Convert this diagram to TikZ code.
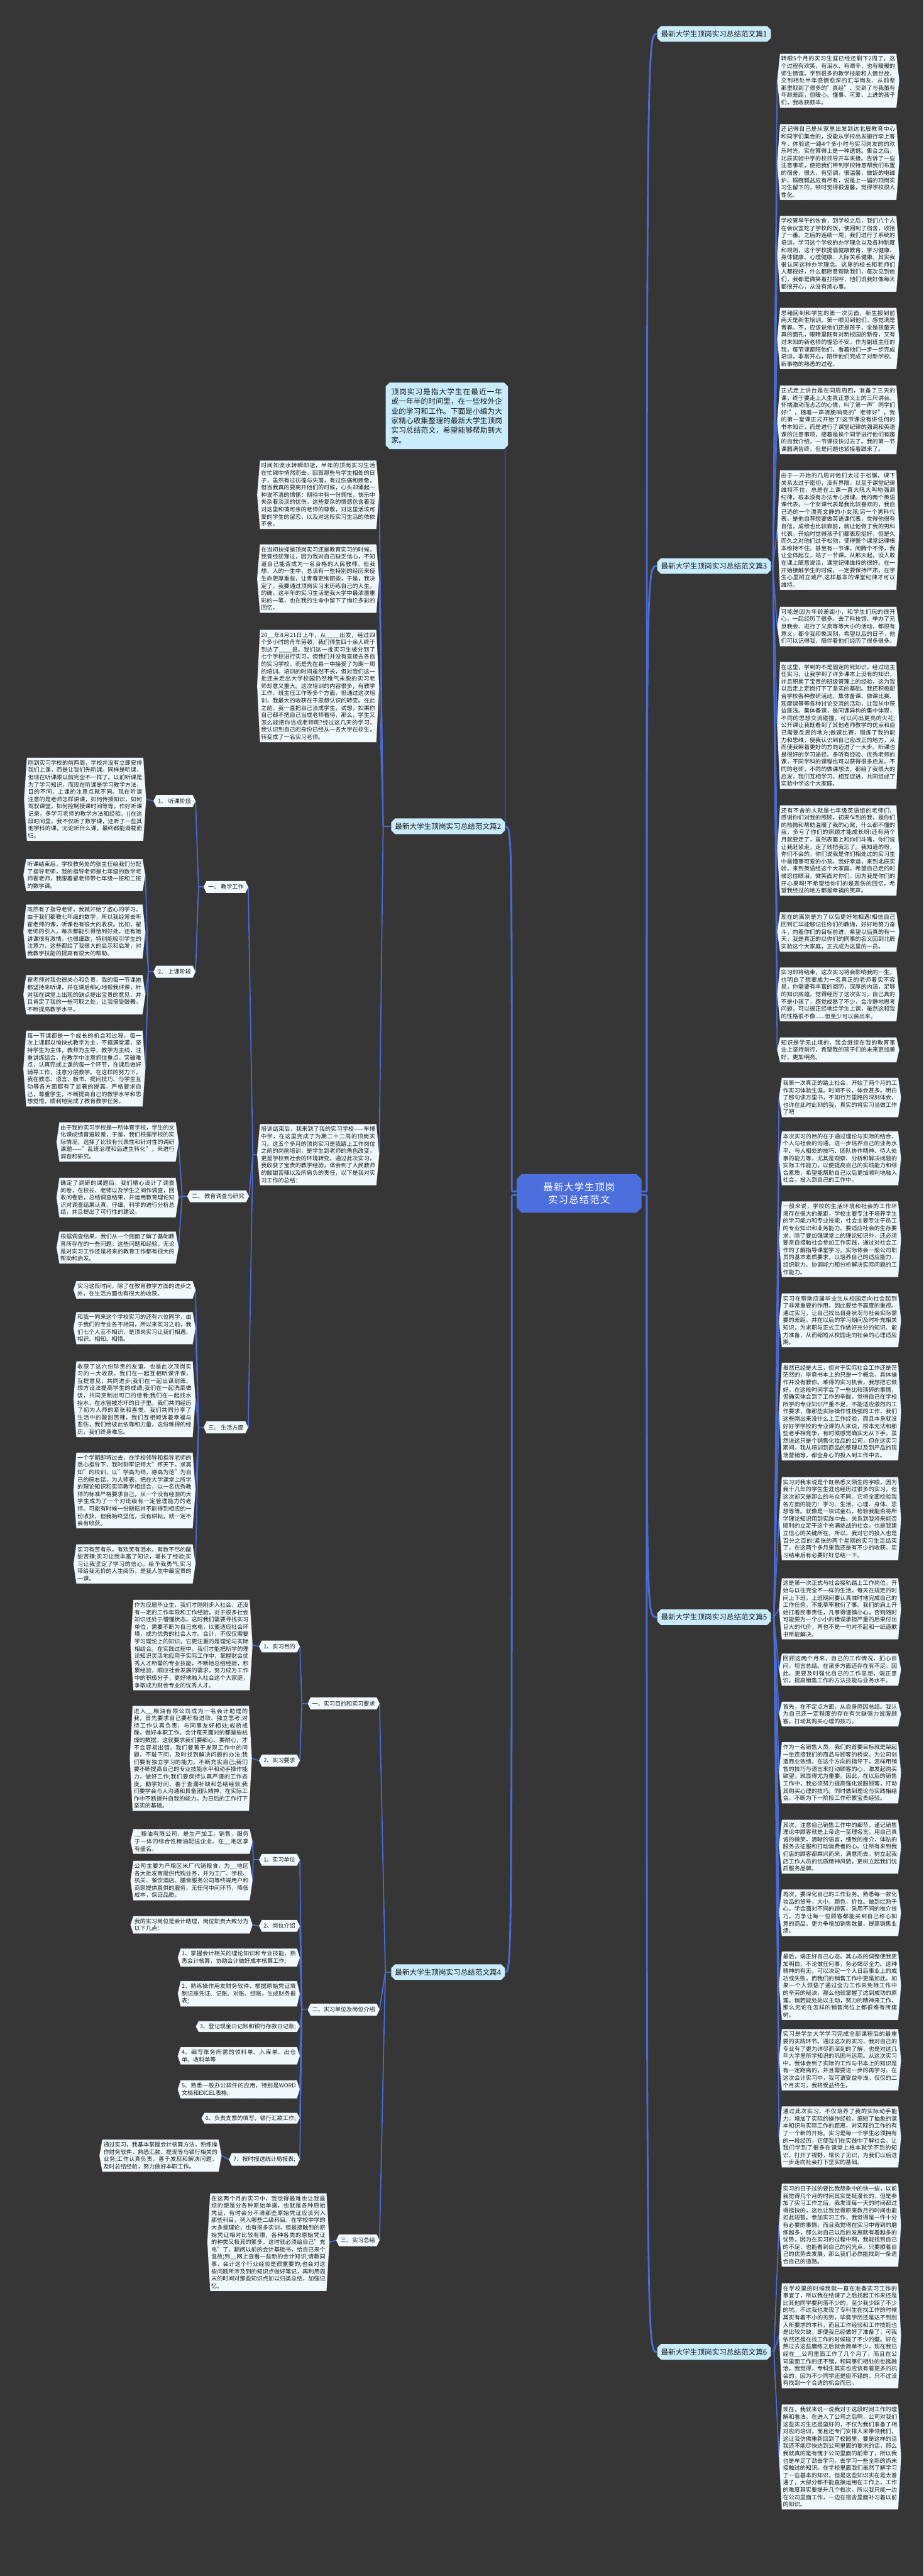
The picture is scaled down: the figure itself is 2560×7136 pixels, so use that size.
\documentclass[tikz,border=0pt]{standalone}
\usepackage{fontspec}
\setmainfont{Noto Sans CJK SC}
\XeTeXlinebreaklocale "zh"
\XeTeXlinebreakskip=0pt plus 1pt
\usepackage{xcolor}
\usepackage{tikz}
\usetikzlibrary{shapes.misc}
\definecolor{bgdark}{RGB}{54,54,54}
\definecolor{linkblue}{RGB}{74,108,214}
\definecolor{leaffill}{RGB}{241,249,253}
\definecolor{pianfill}{RGB}{200,236,252}
\definecolor{rootblue}{RGB}{77,111,221}
\definecolor{inkdark}{RGB}{25,25,25}

% box with a short point on the left and on the right
\makeatletter
\newdimen\hextip
\hextip=4.5pt
\pgfdeclareshape{tipbox}{
  \inheritsavedanchors[from=rectangle]
  \inheritanchorborder[from=rectangle]
  \inheritanchor[from=rectangle]{center}
  \inheritanchor[from=rectangle]{north}
  \inheritanchor[from=rectangle]{south}
  \inheritanchor[from=rectangle]{north west}
  \inheritanchor[from=rectangle]{north east}
  \inheritanchor[from=rectangle]{south west}
  \inheritanchor[from=rectangle]{south east}
  \inheritanchor[from=rectangle]{base}
  \inheritanchor[from=rectangle]{mid}
  \anchor{east}{%
    \southwest \pgf@yc=\pgf@y
    \northeast \advance\pgf@y by \pgf@yc \pgf@y=.5\pgf@y
    \advance\pgf@x by \hextip}
  \anchor{west}{%
    \northeast \pgf@yc=\pgf@y
    \southwest \advance\pgf@y by \pgf@yc \pgf@y=.5\pgf@y
    \advance\pgf@x by -\hextip}
  \backgroundpath{%
    \southwest \edef\tb@l{\the\pgf@x}\edef\tb@b{\the\pgf@y}%
    \northeast \edef\tb@r{\the\pgf@x}\edef\tb@t{\the\pgf@y}%
    \pgf@x=\tb@l\advance\pgf@x by -\hextip\edef\tb@lt{\the\pgf@x}%
    \pgf@x=\tb@r\advance\pgf@x by \hextip\edef\tb@rt{\the\pgf@x}%
    \pgf@y=\tb@b\advance\pgf@y by \tb@t\pgf@y=.5\pgf@y\edef\tb@m{\the\pgf@y}%
    \pgfpathmoveto{\pgfqpoint{\tb@l}{\tb@b}}%
    \pgfpathlineto{\pgfqpoint{\tb@r}{\tb@b}}%
    \pgfpathlineto{\pgfqpoint{\tb@rt}{\tb@m}}%
    \pgfpathlineto{\pgfqpoint{\tb@r}{\tb@t}}%
    \pgfpathlineto{\pgfqpoint{\tb@l}{\tb@t}}%
    \pgfpathlineto{\pgfqpoint{\tb@lt}{\tb@m}}%
    \pgfpathclose}
}
\makeatother

\pgfdeclarelayer{back}
\pgfdeclarelayer{links}
\pgfsetlayers{back,links,main}

\tikzset{
    leafbox/.style={
        shape=tipbox, fill=leaffill, draw=gray!60, densely dotted, line width=0.5pt,
        text=inkdark, font=\fontsize{9pt}{11.5pt}\selectfont, inner xsep=1.5pt, inner ysep=3.5pt
    },
    leaf/.style={
        leafbox, text width=180pt, align=justify
    },
    sect/.style={
        shape=tipbox, fill=leaffill, text=inkdark,
        font=\fontsize{9pt}{11.5pt}\selectfont, inner xsep=2.5pt, inner ysep=5pt
    },
    pian/.style={
        chamfered rectangle, chamfered rectangle xsep=3pt, chamfered rectangle ysep=3pt,
        fill=pianfill, text=inkdark, font=\fontsize{11.5pt}{14pt}\selectfont, inner xsep=3pt, inner ysep=4pt
    }
}

\begin{document}
\begin{tikzpicture}[
        x=0.02cm, y=-0.02cm,
        % --- STYLE ---
        rootbox/.style={chamfered rectangle, chamfered rectangle xsep=4pt, chamfered rectangle ysep=4pt, fill=rootblue, text=white, font=\fontsize{15.3pt}{20.6pt}\selectfont, text width=169pt, align=center, inner xsep=10pt, inner ysep=9pt},
        introbox/.style={pian, font=\fontsize{11.6pt}{15.2pt}\selectfont, text width=175pt, align=justify, inner xsep=6pt, inner ysep=6pt},
        trunk/.style={draw=linkblue, line width=2.8pt},
        fan/.style={draw=linkblue, line width=1.7pt, line join=round}
    ]
    \useasboundingbox (0,0) rectangle (2560,7136);
    \begin{pgfonlayer}{back}
        \fill[bgdark] (0,0) rectangle (2560,7136);
    \end{pgfonlayer}

    % ==========================================
    % MAIN TOPICS
    % ==========================================
    \node[rootbox] (root) at (1605,3306) {最新大学生顶岗实习总结范文};

    \node[pian, anchor=east] (p1) at (2137,94) {最新大学生顶岗实习总结范文篇1};
    \node[pian, anchor=east] (p3) at (2137,1568) {最新大学生顶岗实习总结范文篇3};
    \node[pian, anchor=east] (p5) at (2137,4480) {最新大学生顶岗实习总结范文篇5};
    \node[pian, anchor=east] (p6) at (2137,6515) {最新大学生顶岗实习总结范文篇6};
    \node[pian, anchor=west] (p2) at (1084,2289) {最新大学生顶岗实习总结范文篇2};
    \node[pian, anchor=west] (p4) at (1084,5463) {最新大学生顶岗实习总结范文篇4};

    \node[introbox, anchor=south east] (intro) at (1403,1239) {顶岗实习是指大学生在最近一年或一年半的时间里，在一些校外企业的学习和工作。下面是小编为大家精心收集整理的最新大学生顶岗实习总结范文，希望能够帮助到大家。};

    % ==========================================
    % RIGHT: TEXT BLOCKS
    % ==========================================
    \node[leaf, anchor=north west] (r1) at (2162,149) {转眼5个月的实习生涯已经还剩下2周了，这个过程有欢笑、有泪水、有艰辛，也有暖暖的师生情谊。学到很多的教学技能和人情世故，交到相处半年感情愈深的汇华岗友、从前辈那里取到了很多的"真经"、交到了与我虽有年龄差距，但暖心、懂事、可爱、上进的孩子们，我收获颇丰。};
    \node[leaf, anchor=north west] (r2) at (2162,344) {还记得自己是从家里出发到达北辰教育中心和同学们集合的，没能从学校出发搬行李上客车，体验这一路4个多小时与实习岗友的的欢乐时光，实在算得上是一种遗憾。集合之后，北辰实验中学的校领导开车来接。告诉了一些注意事项，便把我们带到学校特意帮我们布置的宿舍，很大，有空调，很温馨，做饭的电磁炉、锅碗瓢盆应有尽有，说是上一届的顶岗实习生留下的，顿时觉得很温馨，觉得学校很人性化。};
    \node[leaf, anchor=north west] (r3) at (2162,598) {学校管早午的伙食，到学校之后，我们八个人在会议室吃了学校的饭，便回到了宿舍，收拾了一番。之后的连续一周，我们进行了系统的培训，学习这个学校的办学理念以及各种制度和规则，这个学校提倡健康教育，学习健康、身体健康、心理健康、人际关系健康。其实我很认同这种办学理念。这里的校长和老师们人都很好，什么都愿意帮助我们，每次见到他们，我都是微笑着打招呼，他们说我好像每天都很开心，从没有烦心事。};
    \node[leaf, anchor=north west] (r4) at (2162,853) {思绪回到和学生的第一次见面，新生报到前两天是新生培训。第一眼见到他们，感觉满是青春。不，应该说他们还是孩子，全是孩童天真的面孔，眼睛里既有对新校园的新奇，又有对未知的新老师的惶恐不安。作为副班主任的我，每节课都陪他们，看着他们一步一步完成培训，非常开心，陪伴他们完成了对新学校、新事物的熟悉的过程。};
    \node[leaf, anchor=north west] (r5) at (2162,1068) {正式走上讲台是在同周周四，准备了三天的课，终于要走上人生真正意义上的三尺讲台。怀揣激动而忐忑的心情，叫了第一声"同学们好!"，随着一声清脆响亮的"老师好"，我的第一堂课正式开始了!这节课没有讲任何的书本知识，而是进行了课堂纪律的强调和英语课的注意事项，接着是挨个同学进行他们有趣的自我介绍，一节课很快过去了。我的第一节课圆满告终，但是问题也紧接着跟来了。};
    \node[leaf, anchor=north west] (r6) at (2162,1303) {由于一开始的几周对他们太过于松懈，课下关系太过于密切，没有界限，以至于课堂纪律维持不住，总是在上课一直大吼大叫地强调纪律，根本没有办法专心授课。我的两个英语课代表，一个女课代表是我比较喜欢的，我自己选的一个漂亮文静的小女孩;另一个男科代表，是他自荐想要做英语课代表，觉得他很有自信，成绩也比较靠前，就让他做了我的男科代表。开始时觉得孩子们都表现挺好，但是久而久之对他们过于松弛，使得整个课堂纪律根本维持不住。甚至有一节课，闹腾个不停，我让全体起立，站了一节课。从那天起，没人敢在课上随意说话，课堂纪律维持的很好。在一开始接触学生的时候，一定要保持严肃，在学生心里树立威严,这样基本的课堂纪律才可以维持。};
    \node[leaf, anchor=north west] (r7) at (2162,1681) {可能是因为年龄差距小，和学生们玩的很开心，一起经历了很多。去了科技馆、举办了元旦晚会、进行了义卖等等大小的活动，都很有意义，都令我印象深刻，希望以后的日子，他们可以记得我，陪伴着他们经历了很多很多。};
    \node[leaf, anchor=north west] (r8) at (2162,1834) {在这里，学到的不是固定的死知识。经过班主任实习，让我学到了许多课本上没有的知识，并且积累了宝贵的班级管理上的经验，这为我以后走上定岗打下了坚实的基础。我还积极配合学校各种教研活动，集体备课、做课比赛、观摩课等等各种讨论交流的活动，让我从中获益匪浅。集体备课，是同课异构的集中体现，不同的思想交流碰撞，可以闪出更亮的火花;公开课让我既看到了其他老师教学的优点和自己需要反思的地方;做课比赛，锻炼了我的能力和思维，使我认识到自己应改正的地方，从而使我朝着更好的方向迈进了一大步。听课也是很好的学习途径。多听有经验、优秀老师的课，不同学科的课程也可以获得很多启发。不同的老师，不同的做课想法，都给了我很大的启发，我们互相学习，相互促进，共同组成了实验中学这个大家庭。};
    \node[leaf, anchor=north west] (r9) at (2162,2231) {还有不舍的人就是七年级英语组的老师们，感谢你们对我的照顾，初来乍到的我，是你们的热情和帮助温暖了我的心窝，什么都不懂的我，多亏了你们的照顾才能成长呀!还有两个月就要走了，虽然表面上和你们斗嘴，你们说让我赶紧走，走了就把我忘了。我知道的呀，你们不会的，你们说我是你们相处过的实习生中最懂事可爱的小孩。我好幸运，来到北辰实验，来到英语组这个大家庭，希望自己走的时候忍住眼泪，微笑面对你们，因为我是你们的开心果呀!不希望给你们的是悲伤的回忆，希望我经过的地方都是幸福的笑声。};
    \node[leaf, anchor=north west] (r10) at (2162,2527) {现在的离别是为了以后更好地相遇!相信自己回到汇华能够记住你们的教诲，好好地努力奋斗，向着你们的目标前进，希望以后真的有一天，我是真正的以你们的同事的名义回到北辰实验这个大家庭，正式成为这里的一员。};
    \node[leaf, anchor=north west] (r11) at (2162,2680) {实习即将结束，这次实习将会影响我的一生，也明白了想要成为一名真正的老师着实不容易，你需要有丰富的阅历，深厚的内涵，足够的知识底蕴。觉得经历了这次实习，自己真的不是小孩了，感觉成熟了不少，会冷静地思考问题，可以很正经地给学生上课，虽然这和我的性格很不像......但至少可以装出来。};
    \node[leaf, anchor=north west] (r12) at (2162,2874) {知识是学无止境的，我会继续在我的教育事业上坚持前行，希望我的孩子们的未来更加美好，更加明亮。};

    \node[leaf, anchor=north west] (r13) at (2167,2986) {我第一次真正的踏上社会，开始了两个月的工作实习体验生涯。时间不长，体会甚多。明白了那句读万里书，不如行万里路的深刻体会，也许在此时此刻的我，真实的将实习当做工作了吧};
    \node[leaf, anchor=north west] (r14) at (2167,3134) {本次实习的目的在于通过理论与实际的结合、个人与社会的沟通，进一步培养自己的业务水平、与人相处的技巧、团队协作精神、待人处事的能力等，尤其是观察、分析和解决问题的实际工作能力，以便提高自己的实践能力和综合素质，希望能帮助自己以后更加顺利地融入社会，投入到自己的工作中。};
    \node[leaf, anchor=north west] (r15) at (2167,3328) {一般来说，学校的生活环境和社会的工作环境存在很大的差距，学校主要专注于培养学生的学习能力和专业技能，社会主要专注于员工的专业知识和业务能力。要适应社会的生存要求，除了要加强课堂上的理论知识外，还必须要亲自接触社会参加工作实践，通过对社会工作的了解指导课堂学习。实际体会一般公司职员的基本素质要求，以培养自己的适应能力、组织能力、协调能力和分析解决实际问题的工作能力。};
    \node[leaf, anchor=north west] (r16) at (2167,3583) {实习在帮助应届毕业生从校园走向社会起到了非常重要的作用，因此要给予高度的重视。通过实习，让自己找出自身状况与社会实际需要的差距，并在以后的学习期间及时补充相关知识，为求职与正式工作做好充分的知识、能力准备，从而缩短从校园走向社会的心理适应期。};
    \node[leaf, anchor=north west] (r17) at (2167,3775) {虽然已经是大三，但对于实际社会工作还是茫茫然的，毕竟书本上的只是一个概念，具体操作并没有教你。难得的实习机会，我想把它做好。在这段时间学会了一些比较琐碎的事情，但确实体会到了工作的辛酸，觉得自己在学校所学的专业知识严重不足，不能适应激烈的工作要求，像那些实际操作性极强的工作，我们这些刚出来没什么上工作经验，而且本身就没好好学学校的专业课的人来说，根本无法和那些老手相竞争，有时候感觉确实无从下手。虽然说这只是个销售化妆品的公司，但在这实习期间，我从培训到商品的整理以及到产品的现场营销等，都全身心的投入到工作中去。};
    \node[leaf, anchor=north west] (r18) at (2167,4092) {实习对我来说是个既熟悉又陌生的字眼，因为我十几年的学生生涯也经历过很多的实习，但这次却又是那么的与众不同。它将全面检验我各方面的能力：学习、生活、心理、身体、思想等等。就像是一块试金石，检验我能否将所学理论知识用到实践中去。关系到我将来能否顺利的立足于这个充满挑战的社会，也是我建立信心的关键所在，所以，我对它的投入也是百分之百的!紧张的两个星期的实习生活结束了，在这两个多月里我还是有不少的收获。实习结束后有必要好好总结一下。};
    \node[leaf, anchor=north west] (r19) at (2167,4372) {这是第一次正式与社会接轨踏上工作岗位，开始与以往完全不一样的生活。每天在规定的时间上下班，上班期间要认真准时地完成自己的工作任务，不能草率敷衍了事。我们的肩上开始扛着民事责任，凡事得谨慎小心，否则随时可能要为一个小小的错误承担严重的后果付出巨大的代价，再也不是一句对不起和一纸道歉书所能解决。};
    \node[leaf, anchor=north west] (r20) at (2167,4581) {回顾这两个月来，自己的工作情况，扪心自问，坦言总结。在诸多方面还存在有不足。因此，更要及时强化自己的工作思想，端正意识，提高销售工作的方法技能与业务水平。};
    \node[leaf, anchor=north west] (r21) at (2167,4714) {首先，在不足点方面，从自身原因总结。我认为自己还一定程度的存在有欠缺强力说服顾客，打动其购买心理的技巧。};
    \node[leaf, anchor=north west] (r22) at (2167,4826) {作为一名销售人员，我们的首要目标就是架起一坐连接我们的商品与顾客的桥梁。为公司创造商业效绩。在这个方向的指导下，怎样用销售的技巧与语言来打动顾客的心，激发起购买欲望，就显得尤为重要。因此，在以后的销售工作中，我必须努力提高强化说服顾客，打动其购买心理的技巧。同时做到理论与实践相结合，不断为下一阶段工作积累宝贵经验。};
    \node[leaf, anchor=north west] (r23) at (2167,5041) {其次，注意自己销售工作中的细节，谨记销售理论中顾客就是上帝这一至理名言。用自己真诚的微笑，清晰的语言，细致的推介，体贴的服务去征服和打动消费者的心。让所有来到我们店的顾客都乘兴而来，满意而去。树立起我店工作人员的优质精神风貌，更树立起我们优质服务品牌。};
    \node[leaf, anchor=north west] (r24) at (2167,5234) {再次，要深化自己的工作业务。熟悉每一款化妆品的货号，大小，颜色，价位。做到烂熟于心。学会面对不同的顾客，采用不同的推介技巧。力争让每一位顾客都能买到自己称心如意的商品，更力争增加销售数量，提高销售业绩。};
    \node[leaf, anchor=north west] (r25) at (2167,5406) {最后，端正好自己心态。其心态的调整使我更加明白，不论做任何事，务必竭尽全力。这种精神的有无，可以决定一个人日后事业上的成功或失败，而我们的销售工作中更是如此。如果一个人领悟了通过全力工作来免除工作中的辛劳的秘诀，那么他就掌握了达到成功的原理。倘若能处处以主动，努力的精神来工作，那么无论在怎样的销售岗位上都很难有所建树。};
    \node[leaf, anchor=north west] (r26) at (2167,5621) {实习是学生大学学习完成全部课程后的最重要的实践环节。通过这次的实习，我对自己的专业有了更为详尽而深刻的了解，也是对这几年大学里所学知识的巩固与运用。从这次实习中，我体会到了实际的工作与书本上的知识是有一定距离的，并且需要进一步的再学习。在这次会计实习中，我可谓受益非浅。仅仅的二个月实习，我将受益终生。};
    \node[leaf, anchor=north west] (r27) at (2167,5835) {通过此次实习，不仅培养了我的实际动手能力，增加了实际的操作经验，缩短了抽象的课本知识与实际工作的距离，对实际的工作的有了一个新的开始。实习是每一个学生必须拥有的一段经历，它使我们在实践中了解社会，让我们学到了很多在课堂上根本就学不到的知识，打开了视野，增长了见识，为我们以后进一步走向社会打下坚实的基础。};

    \node[leaf, anchor=north west] (r28) at (2167,6049) {实习的日子过的要比我想象中的快一些，以前我觉得几个月的时间其实是挺漫长的，但是参加了实习工作之后，我发现每一天的时间都过得挺快的，这也让我觉得原来数月的时间也能如此短暂。参加实习工作，我觉得是一件十分有必要的事情，而且我觉得在实习中得到的磨练越多，那么对自己以后的发展就有着越多的优势，因为在实习的过程中啊，我能找到自己的不足，也能看到自己的闪光点，只要顺着自己的优势去发展，那么我们必然能找到一条适合自己的道路。};
    \node[leaf, anchor=north west] (r29) at (2167,6325) {在学校里的时候我就一直在准备实习工作的事宜了，所以我在结课了之后找起工作来还是比其他同学要利落不少的，至少我少踩了不少的坑。不过我也发现了专科生在找工作的时候其实有着不小的劣势，毕竟学历还是达不到别人所要求的本科，而且工作经验和工作技能也是比较欠缺，即便我已经做好了准备了，可我依然还是在找工作的时候碰了不少的壁。好在熬过去这些磨练之后就会简单不少，现在我已经在\_\_公司里面工作了几个月了，而且在公司里面工作的还不错，和同事们相处的也挺融洽。我觉得，专科生其实也应该有着更多的机会的，因为不少同学还是挺不错的，只不过没有找到一个合适的机会而已。};
    \node[leaf, anchor=north west] (r30) at (2167,6661) {现在，我就来说一说我对于这段时间工作的理解和看法。在进入了公司之后啊，公司对我们这些实习生还是蛮好的，不仅为我们准备了相对应的培训，而且还专门安排人来带领我们，这让我仿佛重新回到了校园里，要是这样的话我还不能尽快达到公司里面的要求的话，那么我就真的是有愧于公司里面的前辈了，所以我也是牟足了劲去学习，去学习一些全新的尚未接触过的知识。在学校里面我们虽然了解学习了一些基本的知识，但是这些知识实在是太普通了，大部分都不能直接运用在工作上，工作的难度其实要提升几个档次，所以我只能一边在公司里面工作，一边在宿舍里面补习着以前的知识。};

    % ==========================================
    % LEFT: PIAN 2
    % ==========================================
    \node[leaf, anchor=north east] (q1) at (1043,1276) {时间如流水转瞬即逝，半年的顶岗实习生活在忙碌中悄然而去。回首那些与学生相处的日子，虽然有过彷徨与失落，有过伤痛和疲惫，但当我真的要离开他们的时候，心头却涌起一种说不清的情愫：期待中有一份惆怅，快乐中夹杂着淡淡的忧伤。这些复杂的情感包含着我对这里和蔼可亲的老师的尊敬，对这里活泼可爱的学生的留恋，以及对这段实习生活的依依不舍。};
    \node[leaf, anchor=north east] (q2) at (1043,1508) {在当初抉择是顶岗实习还是教育实习的时候，我曾经犹豫过，因为我对自己缺乏信心，不知道自己能否成为一名合格的人民教师。但我想，人的一生中，总该有一些特别的经历来使生命更厚重些，让青春更绚丽些，于是，我决定了，我要通过顶岗实习来历练自己的人生。的确，这半年的实习生活是我大学中最浓墨重彩的一笔，也在我的生命中留下了绚烂多彩的回忆。};
    \node[leaf, anchor=north east] (q3) at (1043,1745) {20\_\_年8月21日上午，从\_\_\_\_出发，经过四个多小时的舟车劳顿，我们师生四十余人终于到达了\_\_\_\_县。我们这一批实习生被分到了七个学校进行实习，但我们并没有直接去各自的实习学校，而是先在县一中接受了为期一周的培训。培训的时间虽然不长，但对我们这一批还未走出大学校园仍然稚气未脱的实习老师却意义重大。这次培训的内容很多，有教学工作、班主任工作等多个方面，但通过这次培训，我最大的收获在于思想认识的转变。在此之前，我一直把自己当成学生，试想，如果你自己都不把自己当成老师看待，那么，学生又怎么能把你当成老师呢?经过这几天的学习，我认识到自己的身份已经从一名大学在校生，转变成了一名实习老师。};
    \node[leaf, anchor=north east] (q4) at (1043,3114) {培训结束后，我来到了我的实习学校——车幢中学，在这里完成了为期二十二周的顶岗实习。这五个多月的顶岗实习是我踏上工作岗位之前的岗前培训，是学生到老师的角色改变，更是学校到社会的环境转变。通过此次实习，我收获了宝贵的教学经验，体会到了人民教师的酸甜苦辣以及所肩负的责任，以下是我对实习工作的总结：};

    \node[sect, anchor=east] (jx) at (688,2457) {一、 教学工作};
    \node[sect, anchor=east] (jx1) at (542,2219) {1、 听课阶段};
    \node[sect, anchor=east] (jx2) at (542,2692) {2、 上课阶段};
    \node[sect, anchor=east] (dc) at (690,3314) {二、 教育调查与研究};
    \node[sect, anchor=east] (sh) at (688,3954) {三、 生活方面};

    \node[leaf, anchor=north east] (l1) at (397,2099) {刚到实习学校的前两周，学校并没有立即安排我们上课，而是让我们先听课。同样是听课，但现在听课跟以前完全不一样了。以前听课是为了学习知识，而现在听课是学习教学方法，目的不同，上课的注意点就不同。现在听课注意的是老师怎样讲课，如何传授知识，如何驾驭课堂，如何控制授课时间等等，作好听课记录，多学习老师的教学方法和经验。()在这段时间里，我不仅听了数学课，还听了一些其他学科的课，无论听什么课，最终都能满载而归。};
    \node[leaf, anchor=north east] (l2) at (395,2380) {听课结束后，学校教务处的张主任给我们分配了指导老师，我的指导老师是七年级的数学老师翟老师，我跟着翟老师带七年级一班和二班的数学课。};
    \node[leaf, anchor=north east] (l3) at (395,2506) {既然有了指导老师，我就开始了虚心的学习。由于我们都教七年级的数学，所以我经常去听翟老师的课，听课也有很大的收获。比如，翟老师的引入，每次都能引得恰到好处，还有她讲课很有激情，也很细致，特别能吸引学生的注意力，这些都给了我很大的启示和启发，对我教学技能的提高有很大的帮助。};
    \node[leaf, anchor=north east] (l4) at (395,2701) {翟老师对我也很关心和负责，我的每一节课她都坚持来听课，并在课后细心地帮我评课，针对我在课堂上出现的缺点提出宝贵的意见，并且肯定了我的一些可取之处，让我倍受鼓舞，不断提高教学水平。};
    \node[leaf, anchor=north east] (l5) at (395,2855) {每一节课都是一个成长的机会和过程，每一次上课都以愉快式教学为主，不搞满堂灌，坚持学生为主体，教师为主导，教学为主线，注重讲练结合，在教学中注意抓住重点，突破难点，认真完成上课的每一个环节，在课后做好辅导工作，注意分层教学。在这样的努力下，我在教态、语言、板书、提问技巧、与学生互动等各方面都有了显著的提高。严格要求自己，尊重学生，不断提高自己的教学水平和思想觉悟，顺利地完成了教育教学任务。};
    \node[leaf, anchor=north east] (l6) at (487,3109) {由于我的实习学校是一所体育学校，学生的文化课成绩普遍较差，于是，我们根据学校的实际情况，选择了比较有代表性和针对性的调研课题——"乱班治理和后进生转化"，来进行调查和研究。};
    \node[leaf, anchor=north east] (l7) at (487,3263) {确定了调研的课题后，我们精心设计了调查问卷，在校长、老师以及学生之间作调查，回收问卷后，总结调查结果，并运用教育理论知识对调查结果认真、仔细、科学的进行分析总结，并且提出了可行性的建议。};
    \node[leaf, anchor=north east] (l8) at (487,3412) {根据调查结果，我们从一个侧面了解了基础教育所存在的一些问题，这些问题和经验，无论是对实习工作还是将来的教育工作都有很大的帮助和启发。};
    \node[leaf, anchor=north east] (l9) at (534,3549) {实习这段时间，除了在教育教学方面的进步之外，在生活方面也有很大的收获。};
    \node[leaf, anchor=north east] (l10) at (534,3635) {和我一同来这个学校实习的还有六位同学，由于我们的专业各不相同，所以来实习之前，我们七个人互不相识，是顶岗实习让我们相遇、相识、相知、相惜。};
    \node[leaf, anchor=north east] (l11) at (534,3771) {收获了这六份珍贵的友谊，也是此次顶岗实习的一大收获。我们在一起互相听课评课，互提意见，共同进步;我们在一起出谋划策，想方设法提高学生的成绩;我们在一起洗菜做饭，共同烹制出可口的佳肴;我们在一起找水抬水，在水管被冻坏的日子里。我们共同经历了初为人师的紧张和喜悦，我们共同分享了生活中的酸甜苦辣，我们互相倾诉着幸福与悲伤，我们给彼此依靠和力量，这份难得的经历，我们终身难忘。};
    \node[leaf, anchor=north east] (l12) at (534,4024) {一个学期即将过去，在学校领导和指导老师的悉心指导下，我时刻牢记师大"怀天下，求真知"的校训，以"学高为师，德高为范"为自己的座右铭，为人师表，把在大学课堂上所学的理论知识和实际教学相结合，以一名优秀教师的标准严格要求自己，从一个没有经验的大学生成为了一个对班级有一定管理能力的老师。可能有时候一份耕耘并不能得到相应的一份收获，但我始终坚信，没有耕耘，就一定不会有收获。};
    \node[leaf, anchor=north east] (l13) at (534,4278) {实习有苦有乐，有欢笑有泪水，有数不尽的酸甜苦辣;实习让我丰富了知识，增长了经验;实习让我坚定了学习的信心，给予我勇气;实习带给我无价的人生阅历，是我人生中最宝贵的一课。};

    % ==========================================
    % LEFT: PIAN 4
    % ==========================================
    \node[sect, anchor=east] (mu) at (1052,4719) {一、实习目的和实习要求};
    \node[sect, anchor=east] (mu1) at (831,4561) {1、实习目的};
    \node[sect, anchor=east] (mu2) at (831,4877) {2、实习要求};
    \node[sect, anchor=east] (dw) at (1052,5567) {二、实习单位及岗位介绍};
    \node[sect, anchor=east] (dw1) at (831,5152) {1、实习单位};
    \node[sect, anchor=east] (dw2) at (831,5335) {2、岗位介绍};
    \node[sect, anchor=east] (zj) at (1052,6206) {三、实习总结};

    \node[leaf, anchor=north east] (k1) at (692,4432) {作为应届毕业生，我们才刚刚步入社会，还没有一定的工作年限和工作经验，对于很多社会知识还处于懵懂状态。这时我们需要寻找实习单位，需要不断为自己充电，以便适应社会环境，成为优秀的社会人才。会计，不仅仅需要学习理论上的知识，它更注重的是理论与实际相结合。在实践过程中，我们才能把所学的理论知识灵活地应用于实际工作中，掌握财会优秀人才所需的专业技能，不断地总结经验，积累经验，顺应社会发展的需求，努力成为工作中的积极分子，更好地融入社会这个大家庭，争取成为财会专业的优秀人才。};
    \node[leaf, anchor=north east] (k2) at (690,4726) {进入\_\_粮油有限公司成为一名会计助理的我，首先要求自己要积极进取、独立思考;对待工作认真负责，与同事友好相处;戒骄戒躁，做好本职工作。会计每天面对的都是些枯燥的数据，这就要求我们要细心、要耐心，才不会容易出错。我们要善于发现工作中的问题，不耻下问，及时找到解决问题的办法;我们要有独立学习的能力，不断充实自己;我们要不断提高自己的专业技能水平和动手操作能力，做好工作;我们要保持认真严谨的工作态度，勤学好问，善于查漏补缺和总结经验;我们要学会与人沟通和具备团队精神，在实际工作中不断提升自我的能力，为日后的工作打下坚实的基础。};
    \node[leaf, anchor=north east] (k3) at (692,5067) {\_\_粮油有限公司，是生产加工，销售，服务于一体的综合性粮油配送企业。在\_\_地区享有盛名。};
    \node[leaf, anchor=north east] (k4) at (692,5155) {公司主要为产粮区米厂代销粮食，为\_\_地区各大批发商提供代购业务，并为工厂、学校、机关、餐饮酒店、膳食服务公司等终端用户和商家提供直供的服务，无任何中间环节，降低成本，保证品质。};
    \node[leaf, anchor=north east] (k5) at (692,5308) {我的实习岗位是会计助理，岗位职责大致分为以下几点：};

    \node[leaf, anchor=north east] (g1) at (823,5398) {1、掌握会计相关的理论知识和专业技能，熟悉会计核算，协助会计做好成本核算工作;};
    \node[leaf, anchor=north east] (g2) at (823,5488) {2、熟练操作用友财务软件，根据原始凭证填制记账凭证、记账、对账、结账，生成财务报表;};
    \node[leafbox, anchor=north east] (g3) at (823,5599) {3、登记现金日记账和银行存款日记账;};
    \node[leaf, anchor=north east] (g4) at (823,5671) {4、编写账务所需的领料单、入库单、出仓单、收料单等};
    \node[leaf, anchor=north east] (g5) at (823,5763) {5、熟悉一般办公软件的应用，特别是WORD文档和EXCEL表格;};
    \node[leafbox, anchor=north east] (g6) at (823,5853) {6、负责支票的填写，银行汇款工作;};
    \node[sect, anchor=east] (g7) at (831,5982) {7、按时报送统计局报表;};
    \node[leaf, anchor=north east] (k6) at (606,5927) {通过实习，我基本掌握会计核算方法，熟练操作财务软件，熟悉汇款、提现等与银行相关的业务;工作认真负责，善于发现和解决问题，及时总结经验，努力做好本职工作。};
    \node[leaf, anchor=north east] (k7) at (905,6076) {在这两个月的实习中，我觉得最难也让我最烦的便是分各种原始单据，也就是各种原始凭证，有时会分不清那些原始凭证应该列入那些科目，列入哪些二级科目。在学校中学的大多是理论，也有很多实训，但是接触到的原始凭证相对比较有限，各种各类的原始凭证的种类又极其的繁多，这时就必须给自己"充电"了，翻阅以前的会计基础书，给自己来个温故;到\_\_网上查看一些新的会计知识;请教同事，会计这个行业经验是很重要的;也会对这些问题所涉及到的知识点做好笔记，再利用周末的时间对那些知识点加以归类总结，加强记忆。};

    % ==========================================
    % CONNECTORS
    % ==========================================
    \begin{pgfonlayer}{links}
        % root to main topics: one stub up, one stub down on each side
        \path ([yshift=2.9pt]root.east) ++(14,0) coordinate (jru);
        \path ([yshift=-2.9pt]root.east) ++(14,0) coordinate (jrd);
        \path ([yshift=2.9pt]root.west) ++(-13,0) coordinate (jlu);
        \path ([yshift=-2.9pt]root.west) ++(-13,0) coordinate (jld);
        \draw[trunk] ([yshift=2.9pt]root.east) -- (jru);
        \draw[trunk] ([yshift=-2.9pt]root.east) -- (jrd);
        \draw[trunk] ([yshift=2.9pt]root.west) -- (jlu);
        \draw[trunk] ([yshift=-2.9pt]root.west) -- (jld);
        \foreach \p in {p1,p3} \draw[trunk] (jru) .. controls (jru |- \p.west) .. (\p.west);
        \foreach \p in {p5,p6} \draw[trunk] (jrd) .. controls (jrd |- \p.west) .. (\p.west);
        \draw[trunk] (jlu) .. controls (jlu |- p2.east) .. (p2.east);
        \draw[trunk] (jld) .. controls (jld |- p4.east) .. (p4.east);

        % right side
        \path (p3.east) ++(5,0) coordinate (jr3);
        \draw[fan] (p3.east) -- (jr3);
        \foreach \i in {1,...,12} \draw[fan] (jr3) -- (r\i.west);
        \path (p5.east) ++(8,0) coordinate (jr5);
        \draw[fan] (p5.east) -- (jr5);
        \foreach \i in {13,...,27} \draw[fan] (jr5) -- (r\i.west);
        \path (p6.east) ++(8,0) coordinate (jr6);
        \draw[fan] (p6.east) -- (jr6);
        \foreach \i in {28,29,30} \draw[fan] (jr6) -- (r\i.west);

        % pian 2
        \draw[fan] (p2.east) |- (intro.south east);
        \path (p2.west) ++(-22,0) coordinate (jl2);
        \draw[fan] (p2.west) -- (jl2);
        \foreach \i in {1,...,4} \draw[fan] (jl2) -- (q\i.east);
        \path (q4.west) ++(-12,0) coordinate (jq4);
        \draw[fan] (q4.west) -- (jq4);
        \foreach \n in {jx,dc,sh} \draw[fan] (jq4) -- (\n.east);
        \path (jx.west) ++(-14,0) coordinate (jjx);
        \draw[fan] (jx.west) -- (jjx);
        \foreach \n in {jx1,jx2} \draw[fan] (jjx) -- (\n.east);
        \draw[fan] (jx1.west) -- (l1.east);
        \path (jx2.west) ++(-14,0) coordinate (jjx2);
        \draw[fan] (jx2.west) -- (jjx2);
        \foreach \i in {2,...,5} \draw[fan] (jjx2) -- (l\i.east);
        \path (dc.west) ++(-14,0) coordinate (jdc);
        \draw[fan] (dc.west) -- (jdc);
        \foreach \i in {6,7,8} \draw[fan] (jdc) -- (l\i.east);
        \path (sh.west) ++(-14,0) coordinate (jsh);
        \draw[fan] (sh.west) -- (jsh);
        \foreach \i in {9,...,13} \draw[fan] (jsh) -- (l\i.east);

        % pian 4
        \path (p4.west) ++(-16,0) coordinate (jl4);
        \draw[fan] (p4.west) -- (jl4);
        \foreach \n in {mu,dw,zj} \draw[fan] (jl4) -- (\n.east);
        \path (mu.west) ++(-16,0) coordinate (jmu);
        \draw[fan] (mu.west) -- (jmu);
        \foreach \n in {mu1,mu2} \draw[fan] (jmu) -- (\n.east);
        \draw[fan] (mu1.west) -- (k1.east);
        \draw[fan] (mu2.west) -- (k2.east);
        \path (dw.west) ++(-16,0) coordinate (jdw);
        \draw[fan] (dw.west) -- (jdw);
        \foreach \n in {dw1,dw2,g1,g2,g3,g4,g5,g6,g7} \draw[fan] (jdw) -- (\n.east);
        \path (dw1.west) ++(-16,0) coordinate (jdw1);
        \draw[fan] (dw1.west) -- (jdw1);
        \foreach \n in {k3,k4} \draw[fan] (jdw1) -- (\n.east);
        \draw[fan] (dw2.west) -- (k5.east);
        \draw[fan] (g7.west) -- (k6.east);
        \draw[fan] (zj.west) -- (k7.east);
    \end{pgfonlayer}

\end{tikzpicture}
\end{document}
